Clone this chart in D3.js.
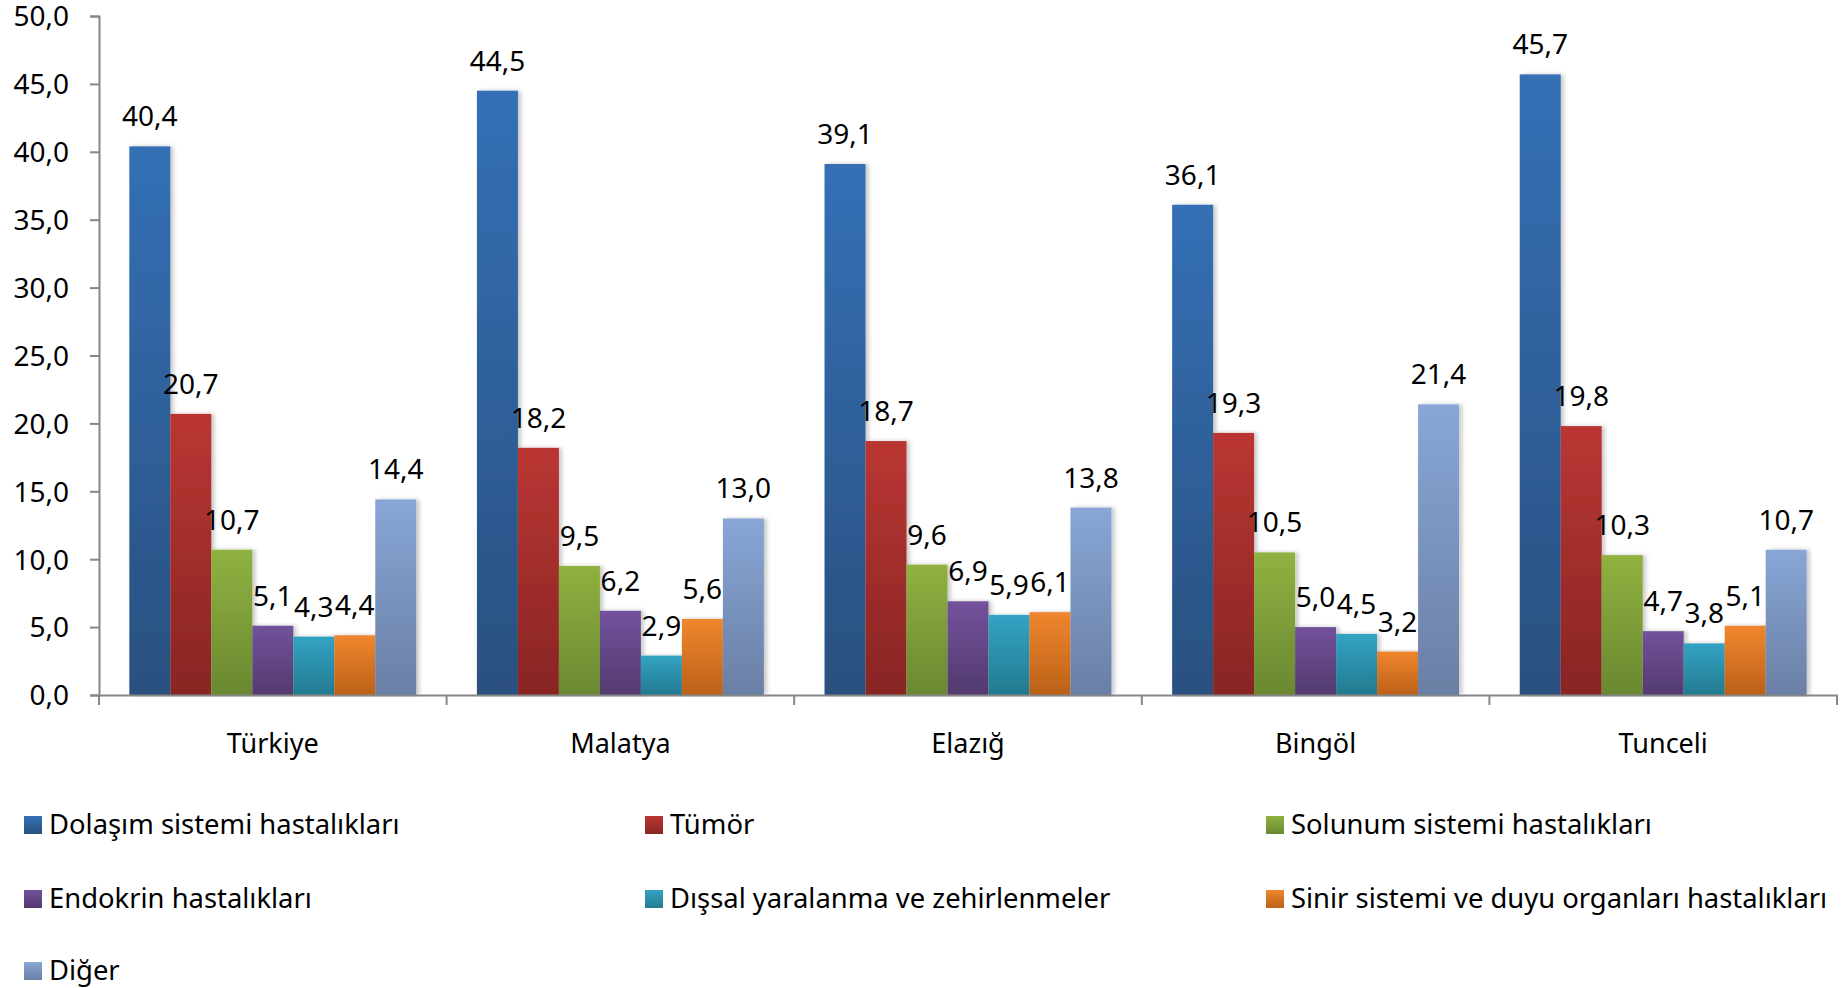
<!DOCTYPE html>
<html>
<head>
<meta charset="utf-8">
<script src="https://cdn.jsdelivr.net/npm/d3@7"></script>
<style>
  body { margin: 0; background: #fff; }
  svg text { font-family: "Noto Sans", sans-serif; fill: #000; }
</style>
</head>
<body>
<svg id="chart" width="1843" height="988"></svg>
<script>
// categories, series and values
var categories = ["Türkiye", "Malatya", "Elazığ", "Bingöl", "Tunceli"];
var series = ["Dolaşım sistemi hastalıkları", "Tümör", "Solunum sistemi hastalıkları",
              "Endokrin hastalıkları", "Dışsal yaralanma ve zehirlenmeler",
              "Sinir sistemi ve duyu organları hastalıkları", "Diğer"];
var values = [
    [40.4, 20.7, 10.7, 5.1, 4.3, 4.4, 14.4],
    [44.5, 18.2, 9.5, 6.2, 2.9, 5.6, 13.0],
    [39.1, 18.7, 9.6, 6.9, 5.9, 6.1, 13.8],
    [36.1, 19.3, 10.5, 5.0, 4.5, 3.2, 21.4],
    [45.7, 19.8, 10.3, 4.7, 3.8, 5.1, 10.7]
];
var yTicks = [0, 5, 10, 15, 20, 25, 30, 35, 40, 45, 50];
var colorsTop = ["#3470b6", "#ba3633", "#8fb240", "#72529b", "#33a3c4", "#f0862e", "#88a6d6"];
var colorsBottom = ["#29507f", "#882524", "#6a8831", "#533a6f", "#237a8f", "#bb6118", "#6a7fa4"];

var svg = d3.select("#chart");
var fmt = function(v) { return d3.format(".1f")(v).replace(".", ","); };

var x0 = d3.scaleBand().domain(categories).range([99, 1837]);
var x1 = d3.scaleBand().domain(series).range([0, x0.bandwidth()]).paddingOuter(0.74);
var y = d3.scaleLinear().domain([0, 50]).range([695, 16]);

var defs = svg.append("defs");
series.forEach(function(s, i) {
    var g = defs.append("linearGradient")
        .attr("id", "grad" + i)
        .attr("x1", 0).attr("y1", 0).attr("x2", 0).attr("y2", 1);
    g.append("stop").attr("offset", "0%").attr("stop-color", colorsTop[i]);
    g.append("stop").attr("offset", "100%").attr("stop-color", colorsBottom[i]);
});
var shadow = defs.append("filter").attr("id", "shadow")
    .attr("x", "-20%").attr("y", "-5%").attr("width", "150%").attr("height", "110%");
shadow.append("feDropShadow")
    .attr("dx", 3).attr("dy", 0).attr("stdDeviation", 2)
    .attr("flood-color", "#000").attr("flood-opacity", 0.22);

// y axis
var yAxis = d3.axisLeft(y).tickValues(yTicks).tickSize(9).tickPadding(21).tickFormat(fmt);
var gy = svg.append("g").attr("transform", "translate(99,0)").call(yAxis);
gy.select(".domain").attr("stroke", "#868686").attr("stroke-width", 2);
gy.selectAll(".tick line").attr("stroke", "#868686").attr("stroke-width", 2);
gy.selectAll(".tick text").style("font-size", "28px").attr("dy", "0.35em");

// bars
var groups = svg.append("g").selectAll("g")
        .data(values)
    .enter().append("g")
        .attr("transform", function(d, i) { return "translate(" + x0(categories[i]) + ",0)"; });

groups.selectAll("rect")
        .data(function(d) { return d; })
    .enter().append("rect")
        .attr("x", function(d, j) { return x1(series[j]); })
        .attr("y", function(d) { return y(d); })
        .attr("width", x1.bandwidth())
        .attr("height", function(d) { return y(0) - y(d); })
        .attr("fill", function(d, j) { return "url(#grad" + j + ")"; })
        .attr("filter", "url(#shadow)");

groups.selectAll("text")
        .data(function(d) { return d; })
    .enter().append("text")
        .attr("x", function(d, j) { return x1(series[j]) + x1.bandwidth() / 2; })
        .attr("y", function(d) { return y(d) - 20; })
        .attr("text-anchor", "middle")
        .style("font-size", "28px")
        .text(fmt);

// x axis
var xAxis = d3.axisBottom(x0).tickSize(0).tickPadding(0);
var gx = svg.append("g").attr("transform", "translate(0," + y(0) + ")").call(xAxis);
gx.select(".domain").attr("stroke", "#868686").attr("stroke-width", 2);
gx.selectAll(".tick text").style("font-size", "27px").attr("y", 58).attr("dy", 0);
var bounds = categories.map(function(c) { return x0(c); }).concat([x0.range()[1]]);
gx.selectAll(".bound")
        .data(bounds)
    .enter().append("line")
        .attr("class", "bound")
        .attr("x1", function(d) { return d; }).attr("x2", function(d) { return d; })
        .attr("y1", 0).attr("y2", 10)
        .attr("stroke", "#868686").attr("stroke-width", 2);

// legend
var legendCols = [24, 645, 1266];
var legendRows = [834, 908, 980];
var leg = svg.append("g").selectAll("g")
        .data(series)
    .enter().append("g")
        .attr("transform", function(d, i) {
            return "translate(" + legendCols[i % 3] + "," + legendRows[Math.floor(i / 3)] + ")";
        });
leg.append("rect")
    .attr("x", 0).attr("y", -18).attr("width", 18).attr("height", 18)
    .attr("fill", function(d, i) { return "url(#grad" + i + ")"; });
leg.append("text")
    .attr("x", 25).attr("y", 0)
    .style("font-size", "27.4px")
    .text(function(d) { return d; });
</script>
</body>
</html>
